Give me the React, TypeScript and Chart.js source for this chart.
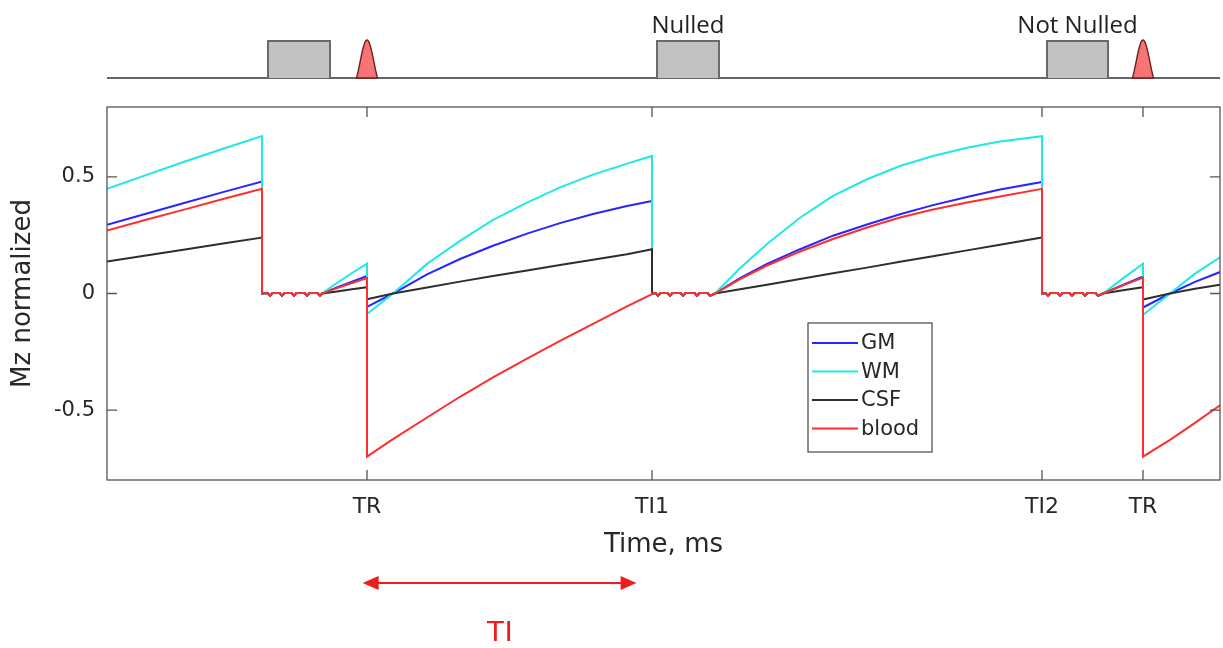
import React, { useEffect, useRef } from 'react';
import { Chart, registerables } from 'chart.js';

Chart.register(...registerables);

// ---- data (time in ms, Mz normalized) ----
const timeMs = [
  0, 195, 390, 580, 775, 775,
  803, 815, 827, 863, 875, 887, 923, 935, 947, 988, 1000, 1012, 1053, 1065, 1075,
  1150, 1225, 1300, 1300,
  1430, 1600, 1765, 1930, 2100, 2265, 2430, 2600, 2725, 2725,
  2743, 2755, 2767, 2803, 2815, 2827, 2868, 2880, 2892, 2938, 2950, 2962, 3003, 3015, 3040,
  3165, 3300, 3465, 3630, 3800, 3965, 4130, 4300, 4465, 4675, 4675,
  4693, 4705, 4717, 4753, 4765, 4777, 4813, 4825, 4837, 4878, 4890, 4902, 4943, 4955, 4980,
  5080, 5180, 5180,
  5315, 5440, 5565,
];

const wmValues = [
  0.449, 0.508, 0.566, 0.621, 0.675, 0,
  0.002, -0.01, 0.002, 0.002, -0.01, 0.002, 0.002, -0.01, 0.002, 0.002, -0.01, 0.002, 0.002, -0.01, 0,
  0.045, 0.088, 0.128, -0.088,
  0.0, 0.127, 0.226, 0.316, 0.39, 0.455, 0.51, 0.557, 0.59, 0,
  0.002, -0.01, 0.002, 0.002, -0.01, 0.002, 0.002, -0.01, 0.002, 0.002, -0.01, 0.002, 0.002, -0.01, 0,
  0.108, 0.212, 0.325, 0.419, 0.49, 0.547, 0.59, 0.625, 0.652, 0.675, 0,
  0.002, -0.01, 0.002, 0.002, -0.01, 0.002, 0.002, -0.01, 0.002, 0.002, -0.01, 0.002, 0.002, -0.01, 0,
  0.065, 0.128, -0.092,
  0.0, 0.085, 0.155,
];

const gmValues = [
  0.295, 0.342, 0.389, 0.435, 0.48, 0,
  0.002, -0.01, 0.002, 0.002, -0.01, 0.002, 0.002, -0.01, 0.002, 0.002, -0.01, 0.002, 0.002, -0.01, 0,
  0.026, 0.051, 0.075, -0.057,
  0.0, 0.082, 0.148, 0.205, 0.257, 0.302, 0.341, 0.375, 0.397, 0,
  0.002, -0.01, 0.002, 0.002, -0.01, 0.002, 0.002, -0.01, 0.002, 0.002, -0.01, 0.002, 0.002, -0.01, 0,
  0.066, 0.127, 0.19, 0.248, 0.296, 0.34, 0.379, 0.414, 0.446, 0.478, 0,
  0.002, -0.01, 0.002, 0.002, -0.01, 0.002, 0.002, -0.01, 0.002, 0.002, -0.01, 0.002, 0.002, -0.01, 0,
  0.037, 0.073, -0.06,
  0.0, 0.05, 0.092,
];

const csfValues = [
  0.137, 0.163, 0.189, 0.214, 0.24, 0,
  0.002, -0.01, 0.002, 0.002, -0.01, 0.002, 0.002, -0.01, 0.002, 0.002, -0.01, 0.002, 0.002, -0.01, 0,
  0.009, 0.018, 0.027, -0.025,
  0.0, 0.026, 0.051, 0.075, 0.099, 0.122, 0.145, 0.168, 0.19, 0,
  0.002, -0.01, 0.002, 0.002, -0.01, 0.002, 0.002, -0.01, 0.002, 0.002, -0.01, 0.002, 0.002, -0.01, 0,
  0.018, 0.038, 0.062, 0.087, 0.111, 0.136, 0.16, 0.185, 0.209, 0.24, 0,
  0.002, -0.01, 0.002, 0.002, -0.01, 0.002, 0.002, -0.01, 0.002, 0.002, -0.01, 0.002, 0.002, -0.01, 0,
  0.014, 0.027, -0.026,
  0.0, 0.02, 0.038,
];

const bloodValues = [
  0.27, 0.316, 0.361, 0.405, 0.449, 0,
  0.002, -0.01, 0.002, 0.002, -0.01, 0.002, 0.002, -0.01, 0.002, 0.002, -0.01, 0.002, 0.002, -0.01, 0,
  0.023, 0.045, 0.066, -0.7,
  -0.625, -0.532, -0.443, -0.36, -0.279, -0.203, -0.13, -0.055, -0.003, 0,
  0.002, -0.01, 0.002, 0.002, -0.01, 0.002, 0.002, -0.01, 0.002, 0.002, -0.01, 0.002, 0.002, -0.01, 0,
  0.062, 0.12, 0.18, 0.234, 0.283, 0.326, 0.36, 0.39, 0.416, 0.449, 0,
  0.002, -0.01, 0.002, 0.002, -0.01, 0.002, 0.002, -0.01, 0.002, 0.002, -0.01, 0.002, 0.002, -0.01, 0,
  0.035, 0.068, -0.7,
  -0.628, -0.555, -0.48,
];

const seriesLabels = ['GM', 'WM', 'CSF', 'blood'];
const seriesColors = ['#2626ff', '#1ee8e8', '#2e2e2e', '#ff2e2e'];

const xTickValues = [1300, 2725, 4675, 5180];
const xTickLabels = ['TR', 'TI1', 'TI2', 'TR'];
const yTickValues = [-0.5, 0, 0.5];
const yTickLabels = ['-0.5', '0', '0.5'];

// pulse sequence diagram (ms)
const readoutStartMs = [805, 2750, 4700];
const readoutEndMs = [1115, 3060, 5005];
const readoutNotes = ['', 'Nulled', 'Not Nulled'];
const inversionMs = [1300, 5180];
const tiArrowMs = [1278, 2648];
const tiLabel = 'TI';

const TEXT = '#282828';
const FONT = "'DejaVu Sans', sans-serif";

const overlayPlugin = {
  id: 'overlay',
  afterDatasetsDraw(chart: any) {
    const { ctx, chartArea: a, scales } = chart;
    const xs = scales.x;
    const ys = scales.y;
    ctx.save();

    // axes box
    ctx.strokeStyle = '#555';
    ctx.lineWidth = 1.3;
    ctx.strokeRect(a.left, a.top, a.right - a.left, a.bottom - a.top);

    // inner tick marks on all four sides
    const tl = 10;
    ctx.beginPath();
    xs.ticks.forEach((t: any) => {
      const px = xs.getPixelForValue(t.value);
      ctx.moveTo(px, a.bottom);
      ctx.lineTo(px, a.bottom - tl);
      ctx.moveTo(px, a.top);
      ctx.lineTo(px, a.top + tl);
    });
    ys.ticks.forEach((t: any) => {
      const py = ys.getPixelForValue(t.value);
      ctx.moveTo(a.left, py);
      ctx.lineTo(a.left + tl, py);
      ctx.moveTo(a.right, py);
      ctx.lineTo(a.right - tl, py);
    });
    ctx.stroke();

    // legend
    const lx = a.left + 701;
    const ly = a.top + 216;
    const lw = 124;
    const lh = 129;
    ctx.fillStyle = '#ffffff';
    ctx.fillRect(lx, ly, lw, lh);
    ctx.strokeStyle = '#555';
    ctx.lineWidth = 1.3;
    ctx.strokeRect(lx, ly, lw, lh);
    ctx.font = `21px ${FONT}`;
    ctx.textBaseline = 'middle';
    ctx.textAlign = 'left';
    chart.data.datasets.forEach((ds: any, i: number) => {
      const ry = ly + 20 + i * 28.5;
      ctx.strokeStyle = ds.borderColor;
      ctx.lineWidth = 2;
      ctx.beginPath();
      ctx.moveTo(lx + 4, ry);
      ctx.lineTo(lx + 50, ry);
      ctx.stroke();
      ctx.fillStyle = TEXT;
      ctx.fillText(ds.label, lx + 53, ry + 1);
    });

    // pulse sequence diagram above the plot
    const baseY = a.top - 29;
    const topY = a.top - 66;
    ctx.strokeStyle = '#333';
    ctx.lineWidth = 1.6;
    ctx.beginPath();
    ctx.moveTo(a.left, baseY);
    ctx.lineTo(a.right, baseY);
    ctx.stroke();

    readoutStartMs.forEach((s, i) => {
      const x0 = xs.getPixelForValue(s);
      const x1 = xs.getPixelForValue(readoutEndMs[i]);
      ctx.fillStyle = '#c2c2c2';
      ctx.fillRect(x0, topY, x1 - x0, baseY - topY);
      ctx.strokeStyle = '#6a6a6a';
      ctx.lineWidth = 2;
      ctx.beginPath();
      ctx.moveTo(x0, baseY);
      ctx.lineTo(x0, topY);
      ctx.lineTo(x1, topY);
      ctx.lineTo(x1, baseY);
      ctx.stroke();
      if (readoutNotes[i]) {
        ctx.fillStyle = '#222';
        ctx.font = "24px 'Open Sans', sans-serif";
        ctx.textAlign = 'center';
        ctx.textBaseline = 'alphabetic';
        ctx.fillText(readoutNotes[i], (x0 + x1) / 2, topY - 8);
      }
    });

    inversionMs.forEach((c) => {
      const cx = xs.getPixelForValue(c);
      const h = baseY - topY + 1;
      const half = 10.5;
      ctx.beginPath();
      ctx.moveTo(cx - half, baseY);
      for (let dx = -half; dx <= half + 0.01; dx += 0.5) {
        const u = (Math.PI * dx) / half;
        const s = Math.abs(u) < 1e-6 ? 1 : Math.sin(u) / u;
        ctx.lineTo(cx + dx, baseY - h * Math.max(s, 0));
      }
      ctx.lineTo(cx + half, baseY);
      ctx.closePath();
      ctx.fillStyle = '#f77474';
      ctx.fill();
      ctx.strokeStyle = '#6e2020';
      ctx.lineWidth = 1.4;
      ctx.stroke();
    });

    // TI arrow below the plot
    const ay = a.bottom + 103;
    const ax0 = xs.getPixelForValue(tiArrowMs[0]);
    const ax1 = xs.getPixelForValue(tiArrowMs[1]);
    ctx.strokeStyle = '#ee1c1c';
    ctx.fillStyle = '#ee1c1c';
    ctx.lineWidth = 2;
    ctx.beginPath();
    ctx.moveTo(ax0 + 8, ay);
    ctx.lineTo(ax1 - 8, ay);
    ctx.stroke();
    ctx.beginPath();
    ctx.moveTo(ax0, ay);
    ctx.lineTo(ax0 + 16, ay - 7);
    ctx.lineTo(ax0 + 16, ay + 7);
    ctx.closePath();
    ctx.fill();
    ctx.beginPath();
    ctx.moveTo(ax1, ay);
    ctx.lineTo(ax1 - 16, ay - 7);
    ctx.lineTo(ax1 - 16, ay + 7);
    ctx.closePath();
    ctx.fill();
    ctx.font = "30px 'Liberation Sans', sans-serif";
    ctx.textAlign = 'center';
    ctx.textBaseline = 'middle';
    ctx.fillText(tiLabel, (ax0 + ax1) / 2, ay + 50);

    ctx.restore();
  },
};

const seriesValues = [gmValues, wmValues, csfValues, bloodValues];

export default function App() {
  const ref = useRef<HTMLCanvasElement>(null);

  useEffect(() => {
    const canvas = ref.current;
    if (!canvas) return;
    const chart = new Chart(canvas, {
      type: 'line',
      data: {
        datasets: seriesLabels.map((label, k) => ({
          label,
          data: timeMs.map((t, i) => ({ x: t, y: seriesValues[k][i] })),
          borderColor: seriesColors[k],
          backgroundColor: seriesColors[k],
          borderWidth: 2,
          pointRadius: 0,
          tension: 0,
          fill: false,
          order: 4 - k,
        })),
      },
      options: {
        animation: false,
        responsive: false,
        devicePixelRatio: 1,
        events: [],
        layout: { padding: { left: 0, top: 107, right: 3, bottom: 0 } },
        plugins: {
          legend: { display: false },
          tooltip: { enabled: false },
        },
        scales: {
          x: {
            type: 'linear',
            min: 0,
            max: 5565,
            grid: { display: false, drawTicks: false },
            border: { display: false },
            afterBuildTicks: (scale: any) => {
              scale.ticks = xTickValues.map((v) => ({ value: v }));
            },
            afterFit: (scale: any) => {
              scale.height = 168;
            },
            ticks: {
              autoSkip: false,
              maxRotation: 0,
              padding: 14,
              color: TEXT,
              font: { family: FONT, size: 22 },
              callback: (_v: any, i: number) => xTickLabels[i],
            },
            title: {
              display: true,
              text: 'Time, ms',
              color: TEXT,
              font: { family: FONT, size: 26 },
              padding: { top: 0, bottom: 87 },
            },
          },
          y: {
            type: 'linear',
            min: -0.8,
            max: 0.8,
            grid: { display: false, drawTicks: false },
            border: { display: false },
            afterBuildTicks: (scale: any) => {
              scale.ticks = yTickValues.map((v) => ({ value: v }));
            },
            afterFit: (scale: any) => {
              scale.width = 107;
            },
            ticks: {
              padding: 12,
              color: TEXT,
              font: { family: FONT, size: 21 },
              callback: (_v: any, i: number) => yTickLabels[i],
            },
            title: {
              display: true,
              text: 'Mz normalized',
              color: TEXT,
              font: { family: FONT, size: 26 },
              padding: { top: 8, bottom: 0 },
            },
          },
        },
      },
      plugins: [overlayPlugin],
    } as any);
    return () => chart.destroy();
  }, []);

  return (
    <div style={{ position: 'absolute', left: 0, top: 0, width: 1223, height: 648, background: '#ffffff' }}>
      <canvas ref={ref} width={1223} height={648} style={{ display: 'block', width: 1223, height: 648 }} />
    </div>
  );
}
